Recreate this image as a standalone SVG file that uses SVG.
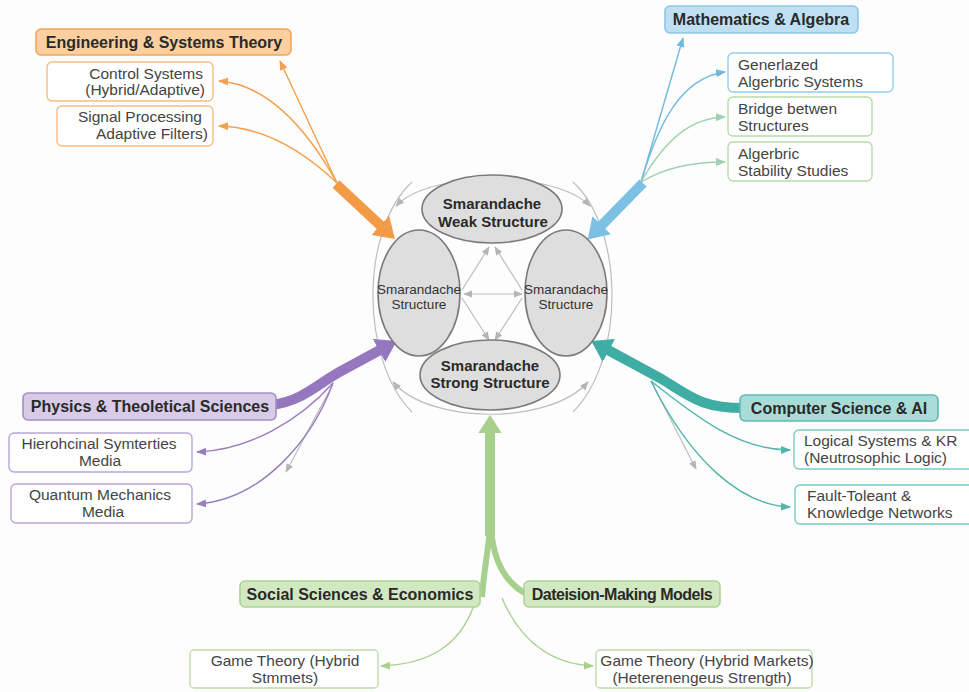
<svg xmlns="http://www.w3.org/2000/svg" width="969" height="692" viewBox="0 0 969 692">
  <style>
    text { font-family: "Liberation Sans", Arial, sans-serif; fill: #333; }
    .cat { font-size: 16px; font-weight: bold; text-anchor: middle; fill: #2a2a2a; }
    .sub { font-size: 15.5px; fill: #444; }
    .core { font-size: 15px; font-weight: bold; text-anchor: middle; fill: #2a2a2a; }
    .core-s { font-size: 13.5px; text-anchor: middle; fill: #333; }
    .ell { fill: #dedede; stroke: #7a7a7a; stroke-width: 1.6; }
    .thin { fill: none; stroke-width: 1.4; }
    .gray { fill: none; stroke: #bdbdbd; stroke-width: 1.2; }
    .box { fill: #ffffff; stroke-width: 1.4; }
  </style>
  <defs>
    <marker id="hg" viewBox="0 0 10 10" refX="9" refY="5" markerWidth="9" markerHeight="9" markerUnits="userSpaceOnUse" orient="auto-start-reverse"><path d="M0,1 L10,5 L0,9 z" fill="#b5b5b5"/></marker>
    <marker id="ho" viewBox="0 0 10 10" refX="9" refY="5" markerWidth="10" markerHeight="10" markerUnits="userSpaceOnUse" orient="auto"><path d="M0,1 L10,5 L0,9 z" fill="#f3a04f"/></marker>
    <marker id="hb" viewBox="0 0 10 10" refX="9" refY="5" markerWidth="10" markerHeight="10" markerUnits="userSpaceOnUse" orient="auto"><path d="M0,1 L10,5 L0,9 z" fill="#72b9df"/></marker>
    <marker id="hl" viewBox="0 0 10 10" refX="9" refY="5" markerWidth="10" markerHeight="10" markerUnits="userSpaceOnUse" orient="auto"><path d="M0,1 L10,5 L0,9 z" fill="#9fd2b0"/></marker>
    <marker id="hp" viewBox="0 0 10 10" refX="9" refY="5" markerWidth="10" markerHeight="10" markerUnits="userSpaceOnUse" orient="auto"><path d="M0,1 L10,5 L0,9 z" fill="#9a7cc0"/></marker>
    <marker id="ht" viewBox="0 0 10 10" refX="9" refY="5" markerWidth="10" markerHeight="10" markerUnits="userSpaceOnUse" orient="auto"><path d="M0,1 L10,5 L0,9 z" fill="#4fb5ad"/></marker>
    <marker id="hn" viewBox="0 0 10 10" refX="9" refY="5" markerWidth="10" markerHeight="10" markerUnits="userSpaceOnUse" orient="auto"><path d="M0,1 L10,5 L0,9 z" fill="#a9d18e"/></marker>
    <!-- heavy heads: base sits at the path end, tip extends forward -->
    <marker id="Ho" viewBox="0 0 20 26" refX="1" refY="13" markerWidth="20" markerHeight="26" markerUnits="userSpaceOnUse" orient="auto"><path d="M0,0 L20,13 L0,26 z" fill="#f29a45"/></marker>
    <marker id="Hb" viewBox="0 0 20 26" refX="1" refY="13" markerWidth="20" markerHeight="26" markerUnits="userSpaceOnUse" orient="auto"><path d="M0,0 L20,13 L0,26 z" fill="#7cc0e4"/></marker>
    <marker id="Hp" viewBox="0 0 20 26" refX="1" refY="13" markerWidth="20" markerHeight="26" markerUnits="userSpaceOnUse" orient="auto"><path d="M0,0 L20,13 L0,26 z" fill="#9577bf"/></marker>
    <marker id="Ht" viewBox="0 0 20 26" refX="1" refY="13" markerWidth="20" markerHeight="26" markerUnits="userSpaceOnUse" orient="auto"><path d="M0,0 L20,13 L0,26 z" fill="#3fada3"/></marker>
    <marker id="Hn" viewBox="0 0 20 26" refX="1" refY="13" markerWidth="18" markerHeight="26" markerUnits="userSpaceOnUse" orient="auto"><path d="M0,0 L20,13 L0,26 z" fill="#a6d08b"/></marker>
  </defs>

  <rect width="969" height="692" fill="#fdfdfd"/>

  <g id="connectors">
    <!-- frame curves around the core -->
    <path class="gray" d="M396 206 C430 170, 555 170, 590 206" marker-start="url(#hg)" marker-end="url(#hg)"/>
    <path class="gray" d="M393 382 C430 425, 550 425, 588 382" marker-start="url(#hg)" marker-end="url(#hg)"/>
    <path class="gray" d="M412 182 C360 230, 360 360, 412 412"/>
    <path class="gray" d="M573 182 C625 230, 625 360, 573 412"/>
    <!-- inner diamond -->
    <path class="gray" d="M462 290 L489 247" marker-end="url(#hg)"/>
    <path class="gray" d="M522 290 L495 247" marker-end="url(#hg)"/>
    <path class="gray" d="M462 298 L489 340" marker-end="url(#hg)"/>
    <path class="gray" d="M522 298 L495 340" marker-end="url(#hg)"/>
    <path class="gray" d="M464 294 L522 294" marker-start="url(#hg)" marker-end="url(#hg)"/>
    <path class="gray" d="M333 384 L286 472" marker-end="url(#hg)"/>
    <path class="gray" d="M651 381 L696 469" marker-end="url(#hg)"/>

    <!-- engineering -->
    <path class="thin" stroke="#f3a04f" d="M337 183 L280 61" marker-end="url(#ho)"/>
    <path class="thin" stroke="#f3a04f" d="M337 183 C305 125, 265 84, 219 81" marker-end="url(#ho)"/>
    <path class="thin" stroke="#f3a04f" d="M337 183 C300 148, 262 127, 219 126" marker-end="url(#ho)"/>
    <path fill="none" stroke="#f29a45" stroke-width="10" d="M336 184 L381 226" marker-end="url(#Ho)"/>

    <!-- mathematics -->
    <path class="thin" stroke="#72b9df" d="M641 182 L683 38" marker-end="url(#hb)"/>
    <path class="thin" stroke="#72b9df" d="M641 182 C658 125, 680 78, 725 72" marker-end="url(#hb)"/>
    <path class="thin" stroke="#9fd2b0" d="M641 182 C665 140, 690 118, 725 117" marker-end="url(#hl)"/>
    <path class="thin" stroke="#9fd2b0" d="M641 182 C665 168, 690 162, 725 162" marker-end="url(#hl)"/>
    <path fill="none" stroke="#7cc0e4" stroke-width="10" d="M643 183 L601 226" marker-end="url(#Hb)"/>

    <!-- physics -->
    <path class="thin" stroke="#9a7cc0" d="M333 383 C300 420, 250 450, 197 452" marker-end="url(#hp)"/>
    <path class="thin" stroke="#9a7cc0" d="M333 383 C312 440, 262 500, 197 504" marker-end="url(#hp)"/>
    <path fill="none" stroke="#9577bf" stroke-width="10" d="M272 405 C305 400, 318 383, 343 370 L380 350" marker-end="url(#Hp)"/>

    <!-- computer science -->
    <path class="thin" stroke="#4fb5ad" d="M651 381 C700 420, 740 450, 790 450" marker-end="url(#ht)"/>
    <path class="thin" stroke="#4fb5ad" d="M651 381 C690 460, 740 505, 790 507" marker-end="url(#ht)"/>
    <path fill="none" stroke="#3fada3" stroke-width="10" d="M744 408 C700 408, 690 396, 660 378 L608 350" marker-end="url(#Ht)"/>

    <!-- social sciences and decision models -->
    <path class="thin" stroke="#a9d18e" d="M474 605 C460 645, 430 664, 381 666" marker-end="url(#hn)"/>
    <path class="thin" stroke="#a9d18e" d="M502 598 C520 640, 550 664, 593 666" marker-end="url(#hn)"/>
    <path fill="none" stroke="#a6d08b" stroke-width="6" d="M482 597 C484 570, 488 550, 490 530"/>
    <path fill="none" stroke="#a6d08b" stroke-width="6" d="M526 594 C505 582, 494 562, 491 530"/>
    <path fill="none" stroke="#a6d08b" stroke-width="10" d="M490 536 L490 432" marker-end="url(#Hn)"/>
  </g>

  <g id="weak">
    <ellipse class="ell" cx="492" cy="209" rx="70" ry="34"/>
    <text class="core" x="492" y="209">Smarandache</text>
    <text class="core" x="493" y="227">Weak Structure</text>
  </g>
  <g id="left-structure">
    <ellipse class="ell" cx="419" cy="293" rx="41" ry="63"/>
    <text class="core-s" x="419" y="294">Smarandache</text>
    <text class="core-s" x="419" y="309">Structure</text>
  </g>
  <g id="right-structure">
    <ellipse class="ell" cx="566" cy="293" rx="41" ry="63"/>
    <text class="core-s" x="566" y="294">Smarandache</text>
    <text class="core-s" x="566" y="309">Structure</text>
  </g>
  <g id="strong">
    <ellipse class="ell" cx="490" cy="375" rx="70" ry="35"/>
    <text class="core" x="490" y="371">Smarandache</text>
    <text class="core" x="490" y="388">Strong Structure</text>
  </g>

  <g id="engineering">
    <rect x="36" y="29" width="255" height="26" rx="5" fill="#fbcf9f" stroke="#f2a65a" stroke-width="1.6"/>
    <text class="cat" x="164" y="48">Engineering &amp; Systems Theory</text>
  </g>
  <g id="control-systems">
    <rect class="box" x="47" y="62" width="166" height="39" rx="5" stroke="#f5bd85"/>
    <text class="sub" x="203" y="79" text-anchor="end">Control Systems</text>
    <text class="sub" x="205" y="95" text-anchor="end">(Hybrid/Adaptive)</text>
  </g>
  <g id="signal-processing">
    <rect class="box" x="57" y="106" width="156" height="40" rx="5" stroke="#f5bd85"/>
    <text class="sub" x="202" y="122" text-anchor="end">Signal Processing</text>
    <text class="sub" x="208" y="139" text-anchor="end">Adaptive Filters)</text>
  </g>

  <g id="mathematics">
    <rect x="665" y="6" width="193" height="27" rx="5" fill="#bfe0f3" stroke="#8cc6e8" stroke-width="1.6"/>
    <text class="cat" x="761" y="25">Mathematics &amp; Algebra</text>
  </g>
  <g id="generalized">
    <rect class="box" x="728" y="53" width="165" height="39" rx="5" stroke="#95cdea"/>
    <text class="sub" x="738" y="70">Generlazed</text>
    <text class="sub" x="738" y="87">Algerbric Systems</text>
  </g>
  <g id="bridge">
    <rect class="box" x="728" y="97" width="144" height="39" rx="5" stroke="#b5dcaa"/>
    <text class="sub" x="738" y="114">Bridge betwen</text>
    <text class="sub" x="738" y="131">Structures</text>
  </g>
  <g id="stability">
    <rect class="box" x="728" y="142" width="144" height="39" rx="5" stroke="#b5dcaa"/>
    <text class="sub" x="738" y="159">Algerbric</text>
    <text class="sub" x="738" y="176">Stability Studies</text>
  </g>

  <g id="physics">
    <rect x="23" y="393" width="253" height="27" rx="5" fill="#d8cbe7" stroke="#a68dc9" stroke-width="1.6"/>
    <text class="cat" x="150" y="412">Physics &amp; Theoletical Sciences</text>
  </g>
  <g id="hierarchical">
    <rect class="box" x="9" y="433" width="183" height="39" rx="5" stroke="#b9a6d6"/>
    <text class="sub" x="99" y="449" text-anchor="middle">Hierohcinal Symterties</text>
    <text class="sub" x="100" y="466" text-anchor="middle">Media</text>
  </g>
  <g id="quantum">
    <rect class="box" x="11" y="484" width="181" height="39" rx="5" stroke="#b9a6d6"/>
    <text class="sub" x="100" y="500" text-anchor="middle">Quantum Mechanics</text>
    <text class="sub" x="103" y="517" text-anchor="middle">Media</text>
  </g>

  <g id="computer-science">
    <rect x="740" y="395" width="198" height="26" rx="5" fill="#a9dcd7" stroke="#5fbab2" stroke-width="1.6"/>
    <text class="cat" x="839" y="414">Computer Science &amp; AI</text>
  </g>
  <g id="logical-systems">
    <rect class="box" x="794" y="430" width="180" height="39" rx="5" stroke="#7ccbc4"/>
    <text class="sub" x="804" y="446">Logical Systems &amp; KR</text>
    <text class="sub" x="804" y="463">(Neutrosophic Logic)</text>
  </g>
  <g id="fault-tolerant">
    <rect class="box" x="795" y="485" width="179" height="39" rx="5" stroke="#7ccbc4"/>
    <text class="sub" x="807" y="501">Fault-Toleant &amp;</text>
    <text class="sub" x="807" y="518">Knowledge Networks</text>
  </g>

  <g id="social-sciences">
    <rect x="240" y="581" width="240" height="26" rx="5" fill="#d2e8c2" stroke="#aed295" stroke-width="1.6"/>
    <text class="cat" x="360" y="600">Social Sciences &amp; Economics</text>
  </g>
  <g id="decision-models">
    <rect x="524" y="581" width="196" height="26" rx="5" fill="#d2e8c2" stroke="#aed295" stroke-width="1.6"/>
    <text class="cat" x="622" y="600" letter-spacing="-0.5">Dateision-Making Models</text>
  </g>
  <g id="game-theory-left">
    <rect class="box" x="190" y="650" width="188" height="38" rx="4" stroke="#bfdcaa"/>
    <text class="sub" x="285" y="666" text-anchor="middle">Game Theory (Hybrid</text>
    <text class="sub" x="285" y="683" text-anchor="middle">Stmmets)</text>
  </g>
  <g id="game-theory-right">
    <rect class="box" x="596" y="650" width="216" height="38" rx="4" stroke="#bfdcaa"/>
    <text class="sub" x="707" y="666" text-anchor="middle">Game Theory (Hybrid Markets)</text>
    <text class="sub" x="702" y="683" text-anchor="middle">(Heterenengeus Strength)</text>
  </g>
</svg>
